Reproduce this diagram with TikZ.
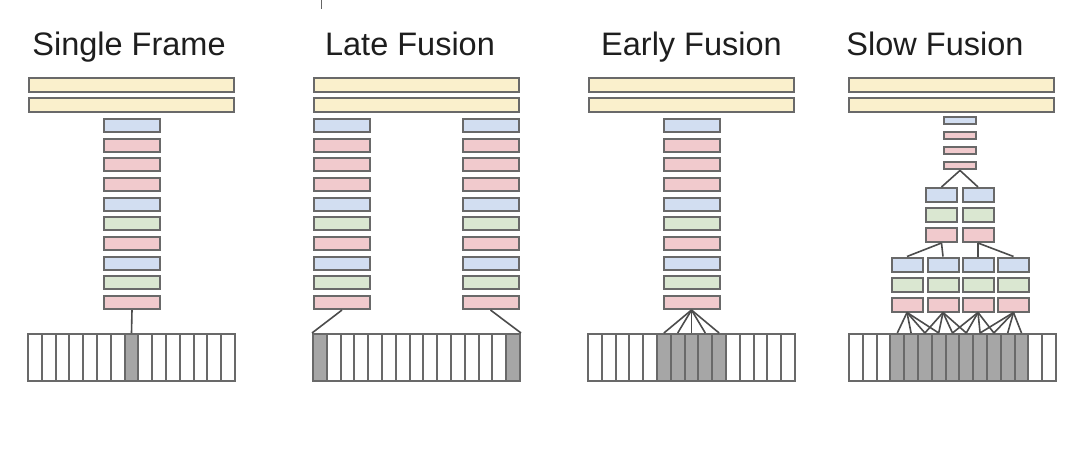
\documentclass[tikz,border=0pt]{standalone}
\usepackage{fontspec}
\setmainfont{Liberation Sans}
\definecolor{cy}{HTML}{FAF0CC}
\definecolor{cb}{HTML}{D2DEF1}
\definecolor{cr}{HTML}{F1CACD}
\definecolor{cg}{HTML}{DAE7D1}
\definecolor{cgray}{HTML}{A6A6A6}
\definecolor{bord}{HTML}{696969}
\definecolor{ttl}{HTML}{1E1E1E}
\tikzset{
  layer/.style={rectangle, draw=bord, line width=2pt, inner sep=0pt},
  fcbar/.style={layer, fill=cy, minimum width=205, minimum height=14},
  cell/.style={rectangle, draw=bord, line width=2pt, inner sep=0pt, minimum width=13.8, minimum height=47},
  conn/.style={draw=black!70, line width=1.6pt},
  ttlstyle/.style={font=\fontsize{32.5}{38}\selectfont, text=ttl, anchor=base, inner sep=0pt},
}
\newcommand\framestrip[3]{%
  \foreach \i in {0,...,14}{%
    \pgfmathparse{#3}%
    \ifdim\pgfmathresult pt>0.5pt \def\cf{cgray}\else\def\cf{white}\fi
    \node[cell,fill=\cf] (#1\i) at ({#2+13.8*(\i+0.5)},357.5) {};
  }}
\newcommand\tallcol[3]{%
  \foreach \c [count=\k] in {cb,cr,cr,cr,cb,cg,cr,cb,cg,cr}{%
    \node[layer, fill=\c, minimum width=56, minimum height=13] (#1\k) at (#2, {125.5+19.67*(\k-1)}) {};
  }}
\begin{document}
\begin{tikzpicture}[x=1pt,y=-1pt]
\useasboundingbox (0,0) rectangle (1080,455);
\fill[white] (0,0) rectangle (1080,455);
\draw[black!60, line width=1pt] (321,0) -- (321,9);

% titles
\node[ttlstyle] (t1) at (129,56) {Single Frame};
\node[ttlstyle] (t2) at (410,56) {Late Fusion};
\node[ttlstyle] (t3) at (691.5,56) {Early Fusion};
\node[ttlstyle] (t4) at (935,56) {Slow Fusion};

% ---------- Single Frame ----------
\node[fcbar] (sfa) at (131.5,85) {};
\node[fcbar] (sfb) at (131.5,105) {};
\tallcol{s}{132}{}
\framestrip{sfc}{28}{\i==7}
\draw[conn] (s10.south) -- (sfc7.north);

% ---------- Late Fusion ----------
\node[fcbar] (lfa) at (416.5,85) {};
\node[fcbar] (lfb) at (416.5,105) {};
\tallcol{ll}{342}{}
\tallcol{lr}{490.5}{}
\framestrip{lfc}{313}{(\i==0)||(\i==14)}
\draw[conn] (ll10.south) -- (lfc0.north west);
\draw[conn] (lr10.south) -- (lfc14.north east);

% ---------- Early Fusion ----------
\node[fcbar] (efa) at (691,85) {};
\node[fcbar] (efb) at (691,105) {};
\tallcol{e}{691.5}{}
\framestrip{efc}{588}{(\i>4)&&(\i<10)}
\foreach \i in {5,...,9}{\draw[conn] (e10.south) -- (efc\i.north);}

% ---------- Slow Fusion ----------
\node[fcbar] (wfa) at (951.5,85) {};
\node[fcbar] (wfb) at (951.5,105) {};
\foreach \c [count=\k] in {cb,cr,cr,cr}{%
  \node[layer, fill=\c, minimum width=32, minimum height=7.5] (wt\k) at (960, {120.7+15*(\k-1)}) {};
}
% middle level
\foreach \x [count=\m] in {941.5,978}{%
  \node[layer, fill=cb, minimum width=31, minimum height=14] (wmB\m) at (\x,195) {};
  \node[layer, fill=cg, minimum width=31, minimum height=14] (wmG\m) at (\x,215) {};
  \node[layer, fill=cr, minimum width=31, minimum height=14] (wmR\m) at (\x,235) {};
}
% bottom level
\foreach \x [count=\m] in {907,943,978,1013.5}{%
  \node[layer, fill=cb, minimum width=31, minimum height=14] (wbB\m) at (\x,264.5) {};
  \node[layer, fill=cg, minimum width=31, minimum height=14] (wbG\m) at (\x,284.5) {};
  \node[layer, fill=cr, minimum width=31, minimum height=14] (wbR\m) at (\x,304.5) {};
}
\framestrip{wfc}{849}{(\i>2)&&(\i<13)}
\draw[conn] (wt4.south) -- (wmB1.north);
\draw[conn] (wt4.south) -- (wmB2.north);
\draw[conn] (wmR1.south) -- (wbB1.north);
\draw[conn] (wmR1.south) -- (wbB2.north);
\draw[conn] (wmR2.south) -- (wbB3.north);
\draw[conn] (wmR2.south) -- (wbB4.north);
\foreach \k in {1,...,4}{%
  \foreach \j in {0,...,3}{%
    \pgfmathtruncatemacro\ci{3+2*(\k-1)+\j}%
    \draw[conn] (wbR\k.south) -- (wfc\ci.north);
  }}
\end{tikzpicture}
\end{document}
